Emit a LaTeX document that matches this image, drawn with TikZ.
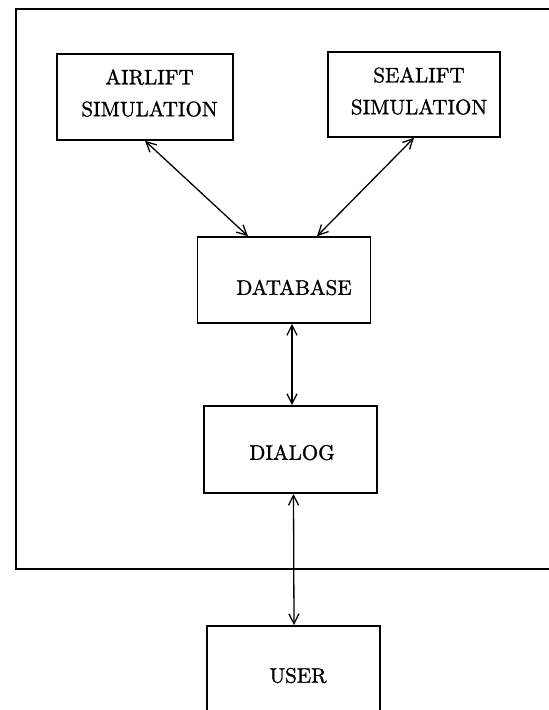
\documentclass[tikz,border=0pt]{standalone}
\usepackage{fontspec}
\newfontfamily\scanfont{Latin Modern Roman}[FakeBold=1.2]
\usetikzlibrary{arrows.meta}
\begin{document}
\begin{tikzpicture}[x=1pt,y=-1pt,
  blk/.style={draw,line width=1.6pt,rectangle,inner sep=0pt},
  txt/.style={align=center,inner sep=0pt,scale=2.1,
    font=\scanfont\fontsize{10}{15.2}\selectfont},
  link/.style={line width=1.3pt,{Straight Barb[length=10pt,width=10pt]}-{Straight Barb[length=10pt,width=10pt]}},
  frame/.style={line width=1.6pt}]
\useasboundingbox (0,0) rectangle (549,710);
\clip (0,0) rectangle (549,710);
\draw[frame] (549,9) -- (16,9) -- (16,569) -- (549,569);
\node[blk,minimum width=176pt,minimum height=86pt] (air) at (145,97) {};
\node[blk,minimum width=172pt,minimum height=85pt] (sea) at (414,94.5) {};
\node[blk,minimum width=173pt,minimum height=86pt] (db) at (284,280) {};
\node[blk,minimum width=173pt,minimum height=87pt] (dlg) at (290.5,449.5) {};
\node[blk,minimum width=173pt,minimum height=104pt] (usr) at (293.5,678) {};
\node[txt] (airt) at (149.5,93) {AIRLIFT\\SIMULATION};
\node[txt] (seat) at (419,91) {SEALIFT\\SIMULATION};
\node[txt] (dbt) at (294,287.5) {DATABASE};
\node[txt] (dlgt) at (292,452.5) {DIALOG};
\node[txt] (usrt) at (298,675.5) {USER};
\draw[link] (air.south) -- ([xshift=-36pt]db.north);
\draw[link] (sea.south) -- ([xshift=33pt]db.north);
\draw[link] ([xshift=8pt]db.south) -- ([xshift=1.5pt]dlg.north);
\draw[link] ([xshift=3pt]dlg.south) -- ([xshift=0.5pt]usr.north);
\end{tikzpicture}
\end{document}
